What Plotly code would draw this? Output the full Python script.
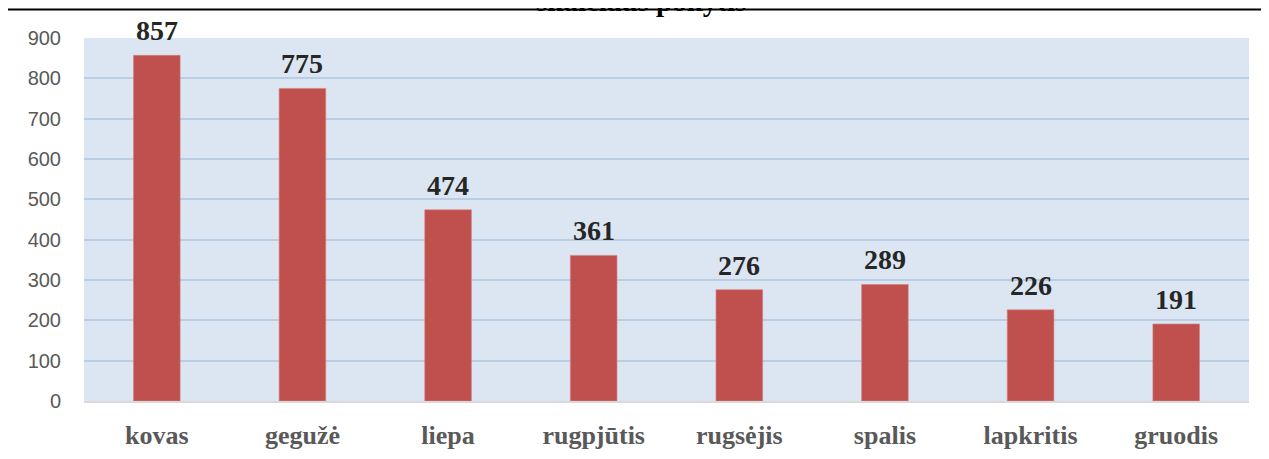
"""
Monthly change chart (bar chart with value labels)
"""

import plotly.graph_objects as go

months = ['kovas', 'gegužė', 'liepa', 'rugpjūtis', 'rugsėjis', 'spalis', 'lapkritis', 'gruodis']
values = [857, 775, 474, 361, 276, 289, 226, 191]
y_ticks = [0, 100, 200, 300, 400, 500, 600, 700, 800, 900]
title_text = 'skaičiaus pokytis'

# page body adds an 8px offset, so figure coords = page coords - 8
OFF = 8
W, H = 1269, 459
L, R, T, B = 84 - OFF, 20 + OFF, 38 - OFF, 58 + OFF
plot_w = W - L - R
plot_h = H - T - B


def px_x(page_x):
    return (page_x - OFF - L) / plot_w


def px_y(page_y):
    return (T + plot_h - (page_y - OFF)) / plot_h


fig = go.Figure()

fig.add_trace(go.Bar(
    x=months,
    y=values,
    marker=dict(color='#C0504D', line=dict(color='#D47F7C', width=0.6)),
    width=0.32,
    hoverinfo='x+y'
))

# Value labels above the bars
for m, v in zip(months, values):
    fig.add_annotation(
        x=m, y=v,
        text=f'<b>{v}</b>',
        showarrow=False,
        yanchor='bottom',
        yshift=7,
        font=dict(family='Liberation Serif', size=28, color='#262626')
    )

# Cut-off title above the frame line (only its lower part shows)
fig.add_annotation(
    text=f'<b>{title_text}</b>',
    xref='paper', yref='paper',
    x=px_x(641), y=px_y(19),
    xanchor='center', yanchor='bottom',
    showarrow=False,
    font=dict(family='Liberation Serif', size=29, color='#000000')
)

# Document frame: top and left lines
fig.add_shape(
    type='line', xref='paper', yref='paper',
    x0=px_x(7), x1=px_x(W + 10),
    y0=px_y(9.5), y1=px_y(9.5),
    line=dict(color='#000000', width=2)
)
fig.add_shape(
    type='line', xref='paper', yref='paper',
    x0=px_x(7), x1=px_x(7),
    y0=px_y(9.5), y1=px_y(H + 10),
    line=dict(color='#000000', width=2)
)

fig.update_layout(
    width=W,
    height=H,
    margin=dict(l=L, r=R, t=T, b=B),
    paper_bgcolor='white',
    plot_bgcolor='#DCE6F2',
    showlegend=False,
    xaxis=dict(
        showgrid=False,
        showline=True,
        linecolor='#D9D9D9',
        linewidth=2,
        ticks='',
        tickfont=dict(family='Liberation Serif', size=26, color='#595959', weight='bold'),
        ticklabelstandoff=10,
    ),
    yaxis=dict(
        range=[0, 900],
        tickvals=y_ticks,
        showgrid=True,
        gridcolor='#B9CDE5',
        gridwidth=2,
        zeroline=False,
        showline=False,
        ticks='',
        tickfont=dict(family='Liberation Sans', size=20, color='#595959'),
        ticklabelstandoff=22,
    ),
)

fig.write_html("out.html")
